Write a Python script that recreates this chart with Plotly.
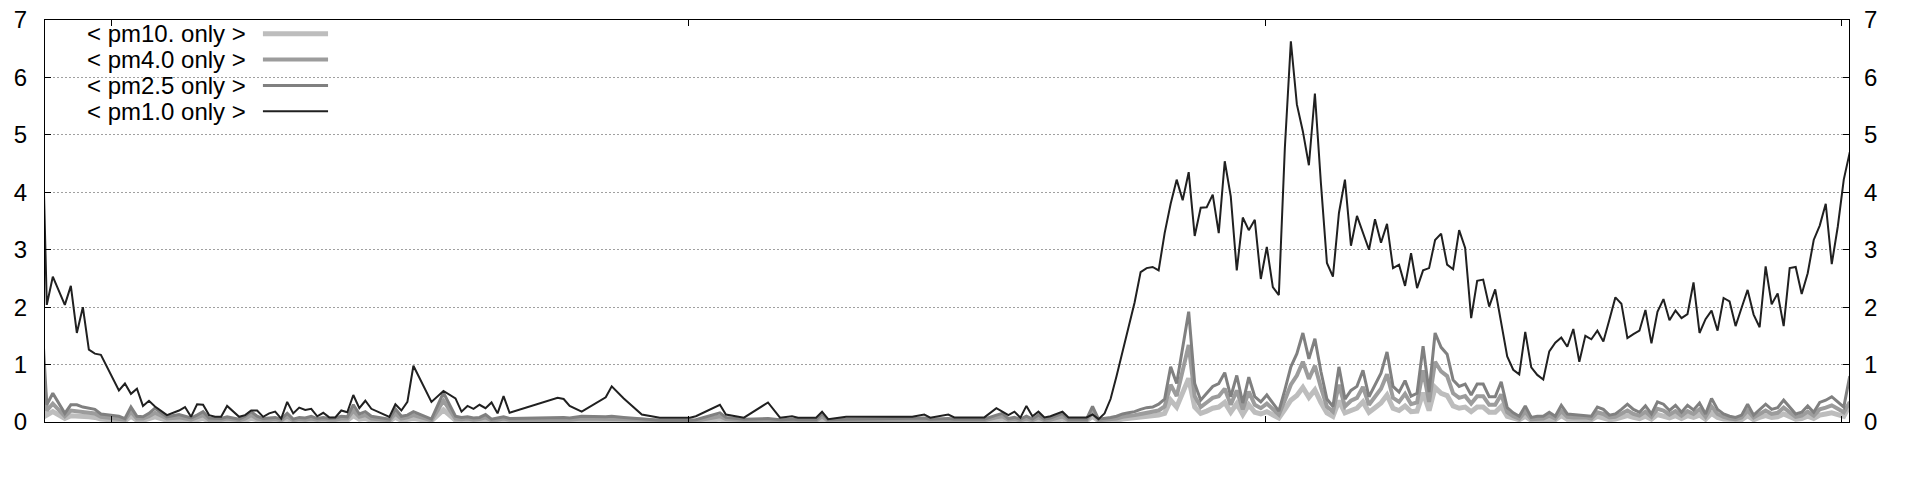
import plotly.graph_objects as go

# time slot index (15-minute samples)
slot = [-1, 0, 1, 3, 4, 5, 6, 7, 8, 9, 12, 13, 14, 15, 16, 17, 18, 20, 22, 23, 24, 25, 26, 27, 28, 29, 30,
        32, 33, 34, 35, 36, 37, 38, 39, 40, 41, 42, 43, 44, 45, 46, 47, 48, 49, 50, 51, 52, 53, 54,
        57, 58, 59, 60, 61, 64, 66, 68, 69, 70, 71, 72, 73, 74, 75, 76, 77, 85, 86, 87, 89, 93, 94, 96,
        99, 102, 107, 108, 112, 113, 116, 120, 122, 124, 125, 128, 129, 130, 133, 144, 146, 147, 150, 151,
        156, 158, 159, 160, 161, 162, 163, 164, 165, 166, 167, 169, 170, 173, 174, 175, 176, 177, 178, 179,
        180, 181, 182, 183, 184, 185, 186, 187, 188, 189, 190, 191, 192, 193, 194, 195, 196, 197, 198, 199,
        200, 201, 202, 203, 204, 205, 206, 207, 208, 209, 210, 211, 212, 213, 214, 215, 216, 217, 218, 219,
        220, 221, 222, 223, 224, 225, 226, 227, 228, 229, 230, 231, 232, 233, 234, 235, 236, 237, 238, 239,
        240, 241, 242, 243, 244, 245, 246, 247, 248, 249, 250, 251, 252, 253, 254, 255, 256, 257, 258, 259,
        260, 261, 262, 263, 264, 265, 266, 267, 268, 269, 270, 271, 272, 273, 274, 275, 276, 277, 278, 279,
        280, 281, 282, 283, 284, 285, 286, 287, 288, 289, 290, 291, 292, 293, 294, 295, 296, 297, 298, 299, 300]

pm1_only = [6.2, 2.04, 2.53, 2.04, 2.37, 1.55, 2.00, 1.26, 1.19, 1.17, 0.55, 0.67, 0.49, 0.58, 0.28, 0.37, 0.27, 0.12, 0.20, 0.26, 0.09, 0.31, 0.30, 0.12, 0.09, 0.09, 0.28,
            0.09, 0.12, 0.20, 0.20, 0.09, 0.15, 0.18, 0.06, 0.35, 0.15, 0.25, 0.21, 0.23, 0.10, 0.16, 0.08, 0.08, 0.20, 0.17, 0.47, 0.24, 0.37, 0.23,
            0.09, 0.31, 0.20, 0.35, 0.98, 0.35, 0.54, 0.41, 0.18, 0.28, 0.23, 0.30, 0.24, 0.34, 0.15, 0.45, 0.16, 0.42, 0.40, 0.28, 0.18, 0.43, 0.62, 0.41,
            0.13, 0.075, 0.075, 0.10, 0.30, 0.13, 0.075, 0.34, 0.075, 0.10, 0.075, 0.075, 0.18, 0.05, 0.09, 0.09, 0.13, 0.075, 0.13, 0.08,
            0.08, 0.24, 0.18, 0.12, 0.18, 0.075, 0.28, 0.10, 0.18, 0.08, 0.10, 0.18, 0.08, 0.08, 0.13, 0.05, 0.15, 0.40, 0.80, 1.22,
            1.62, 2.08, 2.61, 2.68, 2.70, 2.64, 3.29, 3.80, 4.22, 3.86, 4.35, 3.24, 3.73, 3.74, 3.96, 3.29, 4.54, 3.93, 2.64, 3.56,
            3.34, 3.52, 2.49, 3.05, 2.35, 2.21, 4.77, 6.63, 5.53, 5.06, 4.47, 5.72, 4.16, 2.77, 2.53, 3.64, 4.22, 3.07, 3.59, 3.30,
            3.00, 3.53, 3.12, 3.45, 2.68, 2.74, 2.37, 2.94, 2.33, 2.64, 2.68, 3.17, 3.28, 2.74, 2.66, 3.34, 3.03, 1.81, 2.46, 2.48,
            2.01, 2.31, 1.72, 1.14, 0.91, 0.83, 1.57, 0.95, 0.82, 0.74, 1.23, 1.38, 1.47, 1.31, 1.62, 1.05, 1.50, 1.44, 1.59, 1.40,
            1.78, 2.17, 2.06, 1.46, 1.53, 1.59, 1.95, 1.37, 1.92, 2.14, 1.77, 1.94, 1.81, 1.88, 2.43, 1.55, 1.79, 1.94, 1.59, 2.16,
            2.10, 1.67, 1.99, 2.30, 1.87, 1.65, 2.71, 2.05, 2.24, 1.67, 2.68, 2.70, 2.23, 2.59, 3.17, 3.42, 3.80, 2.75, 3.40, 4.22, 4.70]

pm25_only = [2.1, 0.30, 0.50, 0.15, 0.30, 0.30, 0.26, 0.24, 0.22, 0.14, 0.10, 0.06, 0.26, 0.10, 0.09, 0.15, 0.24, 0.09, 0.13, 0.10, 0.07, 0.12, 0.18, 0.07, 0.06, 0.06, 0.09,
             0.05, 0.10, 0.18, 0.10, 0.06, 0.07, 0.08, 0.05, 0.15, 0.05, 0.08, 0.07, 0.10, 0.06, 0.08, 0.06, 0.07, 0.10, 0.09, 0.30, 0.14, 0.18, 0.10,
             0.05, 0.23, 0.10, 0.12, 0.18, 0.05, 0.51, 0.10, 0.08, 0.09, 0.07, 0.08, 0.13, 0.05, 0.07, 0.09, 0.06, 0.08, 0.08, 0.07, 0.10, 0.09, 0.10, 0.08,
             0.06, 0.03, 0.03, 0.04, 0.16, 0.08, 0.05, 0.06, 0.04, 0.05, 0.04, 0.04, 0.15, 0.04, 0.05, 0.06, 0.07, 0.05, 0.06, 0.05,
             0.05, 0.12, 0.15, 0.06, 0.08, 0.05, 0.10, 0.05, 0.12, 0.05, 0.07, 0.15, 0.05, 0.05, 0.27, 0.05, 0.06, 0.08, 0.10, 0.14,
             0.16, 0.18, 0.22, 0.25, 0.26, 0.31, 0.40, 0.96, 0.67, 1.28, 1.92, 0.67, 0.38, 0.50, 0.62, 0.67, 0.86, 0.44, 0.81, 0.33,
             0.78, 0.44, 0.35, 0.47, 0.33, 0.19, 0.56, 0.96, 1.19, 1.55, 1.10, 1.45, 0.88, 0.40, 0.27, 0.96, 0.40, 0.55, 0.62, 0.90,
             0.44, 0.65, 0.85, 1.22, 0.62, 0.52, 0.72, 0.45, 0.50, 1.32, 0.52, 1.55, 1.30, 1.18, 0.73, 0.62, 0.66, 0.47, 0.66, 0.66,
             0.44, 0.44, 0.70, 0.25, 0.16, 0.10, 0.28, 0.08, 0.10, 0.10, 0.17, 0.10, 0.29, 0.14, 0.13, 0.13, 0.12, 0.10, 0.26, 0.22,
             0.12, 0.14, 0.22, 0.31, 0.22, 0.17, 0.28, 0.14, 0.35, 0.31, 0.20, 0.29, 0.17, 0.29, 0.21, 0.33, 0.14, 0.41, 0.22, 0.14,
             0.10, 0.08, 0.12, 0.31, 0.12, 0.22, 0.31, 0.22, 0.25, 0.38, 0.25, 0.14, 0.17, 0.28, 0.17, 0.34, 0.38, 0.44, 0.35, 0.26, 0.80]

pm4_only = [1.3, 0.20, 0.32, 0.10, 0.20, 0.19, 0.17, 0.16, 0.15, 0.09, 0.06, 0.04, 0.18, 0.06, 0.06, 0.10, 0.16, 0.06, 0.08, 0.06, 0.04, 0.08, 0.12, 0.04, 0.04, 0.04, 0.06,
            0.03, 0.06, 0.12, 0.06, 0.04, 0.04, 0.05, 0.03, 0.10, 0.03, 0.05, 0.04, 0.06, 0.04, 0.05, 0.04, 0.04, 0.06, 0.06, 0.20, 0.09, 0.12, 0.06,
            0.03, 0.15, 0.06, 0.08, 0.12, 0.03, 0.37, 0.06, 0.05, 0.06, 0.04, 0.05, 0.08, 0.03, 0.04, 0.06, 0.04, 0.05, 0.05, 0.04, 0.06, 0.06, 0.06, 0.05,
            0.04, 0.02, 0.02, 0.02, 0.10, 0.05, 0.03, 0.04, 0.02, 0.03, 0.02, 0.02, 0.10, 0.02, 0.03, 0.04, 0.04, 0.03, 0.04, 0.03,
            0.03, 0.08, 0.10, 0.04, 0.05, 0.03, 0.06, 0.03, 0.08, 0.03, 0.04, 0.10, 0.03, 0.03, 0.18, 0.03, 0.04, 0.05, 0.06, 0.09,
            0.10, 0.12, 0.14, 0.16, 0.17, 0.20, 0.27, 0.65, 0.45, 0.87, 1.34, 0.45, 0.26, 0.34, 0.42, 0.45, 0.58, 0.30, 0.55, 0.22,
            0.53, 0.30, 0.24, 0.32, 0.22, 0.13, 0.38, 0.65, 0.81, 1.05, 0.75, 0.98, 0.60, 0.27, 0.18, 0.65, 0.27, 0.37, 0.42, 0.61,
            0.30, 0.44, 0.58, 0.83, 0.42, 0.35, 0.49, 0.31, 0.34, 0.90, 0.35, 1.05, 0.88, 0.80, 0.50, 0.42, 0.45, 0.32, 0.45, 0.45,
            0.30, 0.30, 0.48, 0.17, 0.10, 0.06, 0.18, 0.05, 0.06, 0.06, 0.11, 0.06, 0.19, 0.09, 0.08, 0.08, 0.08, 0.06, 0.17, 0.14,
            0.08, 0.09, 0.14, 0.20, 0.14, 0.11, 0.18, 0.09, 0.23, 0.20, 0.13, 0.19, 0.11, 0.19, 0.14, 0.22, 0.09, 0.27, 0.14, 0.09,
            0.06, 0.05, 0.08, 0.20, 0.08, 0.14, 0.20, 0.14, 0.16, 0.25, 0.16, 0.09, 0.11, 0.18, 0.11, 0.22, 0.25, 0.29, 0.23, 0.17, 0.35]

pm10_only = [0.62, 0.12, 0.18, 0.06, 0.11, 0.11, 0.10, 0.09, 0.08, 0.05, 0.03, 0.02, 0.10, 0.03, 0.03, 0.05, 0.09, 0.03, 0.04, 0.03, 0.02, 0.04, 0.06, 0.02, 0.02, 0.02, 0.03,
             0.02, 0.03, 0.06, 0.03, 0.02, 0.02, 0.03, 0.02, 0.05, 0.02, 0.03, 0.02, 0.03, 0.02, 0.03, 0.02, 0.02, 0.03, 0.03, 0.11, 0.05, 0.06, 0.03,
             0.02, 0.08, 0.03, 0.04, 0.06, 0.02, 0.21, 0.03, 0.03, 0.03, 0.02, 0.03, 0.04, 0.02, 0.02, 0.03, 0.02, 0.03, 0.03, 0.02, 0.03, 0.03, 0.03, 0.03,
             0.02, 0.01, 0.01, 0.01, 0.05, 0.03, 0.02, 0.02, 0.01, 0.02, 0.01, 0.01, 0.05, 0.01, 0.02, 0.02, 0.02, 0.02, 0.02, 0.02,
             0.02, 0.04, 0.05, 0.02, 0.03, 0.02, 0.03, 0.02, 0.04, 0.02, 0.02, 0.05, 0.02, 0.02, 0.10, 0.02, 0.02, 0.03, 0.03, 0.05,
             0.06, 0.07, 0.08, 0.09, 0.10, 0.12, 0.15, 0.38, 0.26, 0.50, 0.76, 0.26, 0.15, 0.19, 0.24, 0.26, 0.34, 0.17, 0.32, 0.13,
             0.30, 0.17, 0.14, 0.18, 0.13, 0.07, 0.22, 0.38, 0.46, 0.60, 0.43, 0.56, 0.34, 0.16, 0.10, 0.37, 0.16, 0.21, 0.24, 0.35,
             0.17, 0.25, 0.33, 0.47, 0.24, 0.20, 0.28, 0.18, 0.19, 0.51, 0.20, 0.60, 0.50, 0.46, 0.28, 0.24, 0.26, 0.18, 0.26, 0.26,
             0.17, 0.17, 0.27, 0.10, 0.06, 0.04, 0.10, 0.03, 0.04, 0.04, 0.06, 0.04, 0.11, 0.05, 0.05, 0.05, 0.04, 0.04, 0.10, 0.08,
             0.04, 0.05, 0.08, 0.11, 0.08, 0.06, 0.10, 0.05, 0.13, 0.11, 0.07, 0.11, 0.06, 0.11, 0.08, 0.12, 0.05, 0.15, 0.08, 0.05,
             0.04, 0.03, 0.04, 0.11, 0.04, 0.08, 0.11, 0.08, 0.09, 0.14, 0.09, 0.05, 0.06, 0.10, 0.06, 0.12, 0.14, 0.16, 0.13, 0.10, 0.30]

series_names = ["< pm10. only >", "< pm4.0 only >", "< pm2.5 only >", "< pm1.0 only >"]
series_values = [pm10_only, pm4_only, pm25_only, pm1_only]
series_colors = ["#bdbdbd", "#9c9c9c", "#808080", "#202020"]
series_widths = [5, 4, 3, 2]
series_axes = ["y", "y", "y", "y2"]

y_ticks = [0, 1, 2, 3, 4, 5, 6, 7]
day_ticks = [10.7, 106.7, 202.7, 298.7]

FONT = "Liberation Sans, Arial, sans-serif"

fig = go.Figure()
for name, vals, col, w, ax in zip(series_names, series_values, series_colors, series_widths, series_axes):
    fig.add_trace(go.Scatter(x=slot, y=vals, mode="lines", name=name, yaxis=ax,
                             line=dict(color=col, width=w), showlegend=False))

# custom gnuplot-style key: text then sample line
key_rows = [0.966, 0.902, 0.837, 0.773]
for name, col, w, yr in zip(series_names, series_colors, series_widths, key_rows):
    fig.add_annotation(xref="paper", yref="paper", x=0.1125, y=yr, text=name,
                       showarrow=False, xanchor="right", yanchor="middle",
                       font=dict(family=FONT, size=24, color="black"))
    fig.add_shape(type="line", xref="paper", yref="paper", x0=0.1208, x1=0.1569,
                  y0=yr, y1=yr, line=dict(color=col, width=w))

fig.update_layout(
    width=1920, height=480,
    margin=dict(l=45, r=71, t=20, b=58),
    plot_bgcolor="white", paper_bgcolor="white",
    font=dict(family=FONT, size=24, color="black"),
    hovermode=False,
    xaxis=dict(range=[-0.3, 299.87], showgrid=False, zeroline=False,
               showline=True, linecolor="black", linewidth=1, mirror="ticks",
               ticks="inside", ticklen=6, tickcolor="black",
               tickvals=day_ticks, showticklabels=False, automargin=False),
    yaxis=dict(range=[0, 7], tickvals=y_ticks, ticktext=[str(v) for v in y_ticks],
               showgrid=True, gridcolor="#a0a0a0", griddash="2px,2px", gridwidth=1,
               zeroline=False, showline=True, linecolor="black", linewidth=1,
               mirror="ticks", ticks="inside", ticklen=6, tickcolor="black",
               ticklabelstandoff=12, automargin=False, ticklabeloverflow="allow"),
    yaxis2=dict(range=[0, 7], tickvals=y_ticks, ticktext=[str(v) for v in y_ticks],
                overlaying="y", side="right", showgrid=False, zeroline=False,
                showline=False, ticks="", ticklabelstandoff=14, automargin=False,
                ticklabeloverflow="allow"),
)

# remove the default page margin so the figure sits at the window's top-left corner
fig.write_html("out.html", config={"displayModeBar": False},
               post_script="document.body.style.margin='0';")
